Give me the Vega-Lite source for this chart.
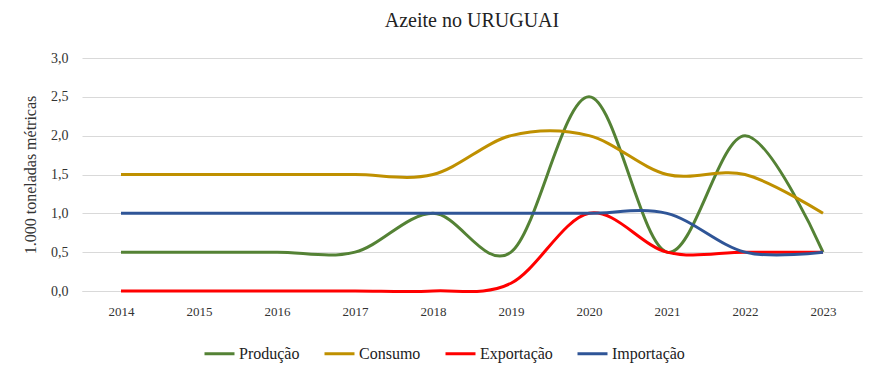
{
  "$schema": "https://vega.github.io/schema/vega-lite/v6.json",
  "autosize": {"type": "none"},
  "width": 780,
  "height": 233,
  "padding": {"left": 82, "top": 58, "right": 19, "bottom": 77},
  "background": "white",
  "title": {"text": "Azeite no URUGUAI", "font": "Liberation Serif", "fontSize": 20, "fontWeight": "normal", "color": "#222222", "offset": 20},
  "config": {
    "font": "Liberation Serif",
    "view": {"stroke": null}
  },
  "data": {"values": [
    {"ano": "2014", "serie": "Produção", "v": 0.5},
    {"ano": "2015", "serie": "Produção", "v": 0.5},
    {"ano": "2016", "serie": "Produção", "v": 0.5},
    {"ano": "2017", "serie": "Produção", "v": 0.5},
    {"ano": "2018", "serie": "Produção", "v": 1.0},
    {"ano": "2019", "serie": "Produção", "v": 0.5},
    {"ano": "2020", "serie": "Produção", "v": 2.5},
    {"ano": "2021", "serie": "Produção", "v": 0.5},
    {"ano": "2022", "serie": "Produção", "v": 2.0},
    {"ano": "2023", "serie": "Produção", "v": 0.5},
    {"ano": "2014", "serie": "Consumo", "v": 1.5},
    {"ano": "2015", "serie": "Consumo", "v": 1.5},
    {"ano": "2016", "serie": "Consumo", "v": 1.5},
    {"ano": "2017", "serie": "Consumo", "v": 1.5},
    {"ano": "2018", "serie": "Consumo", "v": 1.5},
    {"ano": "2019", "serie": "Consumo", "v": 2.0},
    {"ano": "2020", "serie": "Consumo", "v": 2.0},
    {"ano": "2021", "serie": "Consumo", "v": 1.5},
    {"ano": "2022", "serie": "Consumo", "v": 1.5},
    {"ano": "2023", "serie": "Consumo", "v": 1.0},
    {"ano": "2014", "serie": "Exportação", "v": 0},
    {"ano": "2015", "serie": "Exportação", "v": 0},
    {"ano": "2016", "serie": "Exportação", "v": 0},
    {"ano": "2017", "serie": "Exportação", "v": 0},
    {"ano": "2018", "serie": "Exportação", "v": 0},
    {"ano": "2019", "serie": "Exportação", "v": 0.1},
    {"ano": "2020", "serie": "Exportação", "v": 1.0},
    {"ano": "2021", "serie": "Exportação", "v": 0.5},
    {"ano": "2022", "serie": "Exportação", "v": 0.5},
    {"ano": "2023", "serie": "Exportação", "v": 0.5},
    {"ano": "2014", "serie": "Importação", "v": 1.0},
    {"ano": "2015", "serie": "Importação", "v": 1.0},
    {"ano": "2016", "serie": "Importação", "v": 1.0},
    {"ano": "2017", "serie": "Importação", "v": 1.0},
    {"ano": "2018", "serie": "Importação", "v": 1.0},
    {"ano": "2019", "serie": "Importação", "v": 1.0},
    {"ano": "2020", "serie": "Importação", "v": 1.0},
    {"ano": "2021", "serie": "Importação", "v": 1.0},
    {"ano": "2022", "serie": "Importação", "v": 0.5},
    {"ano": "2023", "serie": "Importação", "v": 0.5}
  ]},
  "mark": {"type": "line", "interpolate": "cardinal", "strokeWidth": 3, "clip": false},
  "encoding": {
    "x": {
      "field": "ano", "type": "ordinal",
      "scale": {"type": "point", "padding": 0.5},
      "axis": {"title": null, "labelAngle": 0, "labelFont": "Liberation Serif", "labelFontSize": 13, "labelColor": "#333333", "labelPadding": 14, "ticks": false, "domainColor": "#d9d9d9", "grid": false}
    },
    "y": {
      "field": "v", "type": "quantitative",
      "scale": {"domain": [0, 3]},
      "axis": {"title": "1.000 toneladas métricas", "titleFont": "Liberation Serif", "titleFontSize": 16, "titleFontWeight": "normal", "titleColor": "#333333", "titlePadding": 12,
        "values": [0, 0.5, 1, 1.5, 2, 2.5, 3],
        "labelExpr": "replace(format(datum.value, '.1f'), '.', ',')",
        "labelFont": "Liberation Serif", "labelFontSize": 14, "labelColor": "#333333", "labelPadding": 14,
        "ticks": false, "domain": false, "gridColor": "#d9d9d9", "gridWidth": 1}
    },
    "color": {
      "field": "serie", "type": "nominal",
      "scale": {"domain": ["Produção", "Consumo", "Exportação", "Importação"], "range": ["#548235", "#BF9000", "#FF0000", "#2F5597"]},
      "legend": {"title": null, "orient": "none", "legendX": 121, "legendY": 279, "direction": "horizontal", "symbolType": "stroke", "symbolStrokeWidth": 3, "symbolSize": 900, "labelFont": "Liberation Serif", "labelFontSize": 16, "labelColor": "#222222", "columnPadding": 18, "labelOffset": 3}
    }
  }
}
